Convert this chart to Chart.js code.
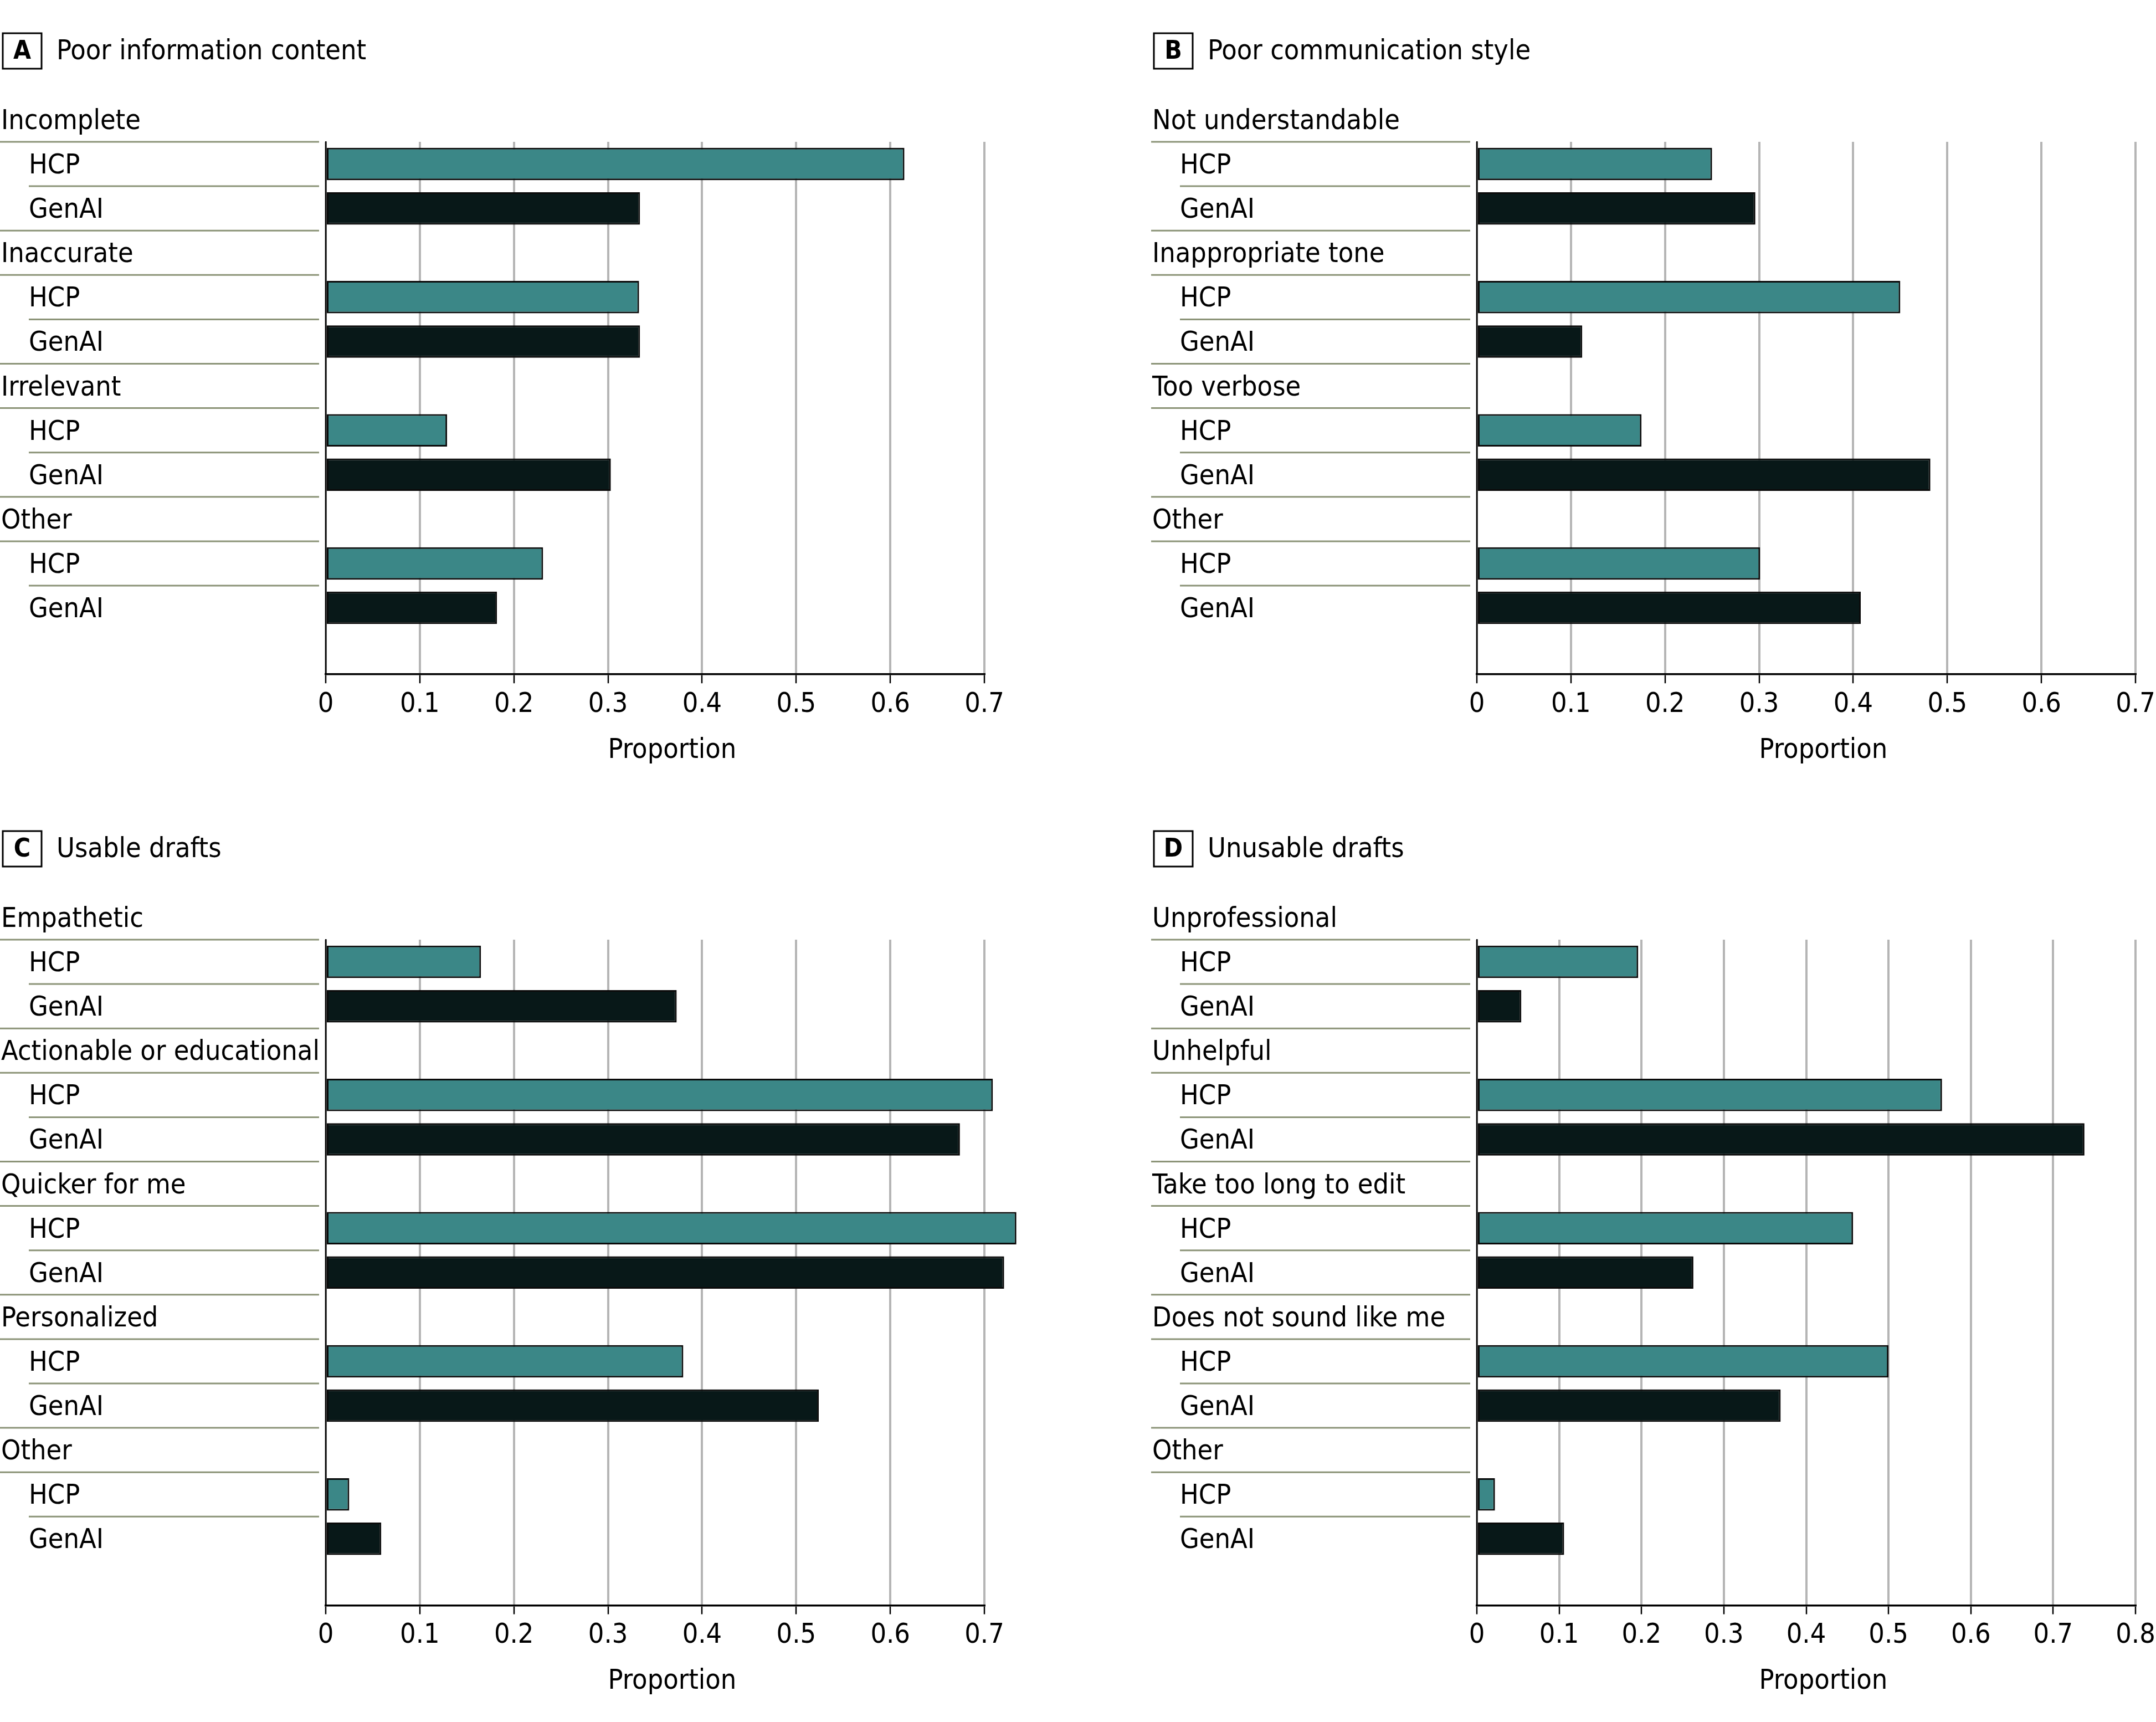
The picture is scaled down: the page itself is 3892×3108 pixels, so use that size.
<!DOCTYPE html>
<html>
<head>
<meta charset="utf-8">
<script src="https://cdn.jsdelivr.net/npm/chart.js@4.4.1/dist/chart.umd.min.js"></script>
<style>
  body { margin: 0; width: 3892px; height: 3108px; overflow: hidden; background: #fff; position: relative; }
  canvas { position: absolute; }
</style>
</head>
<body>
<canvas id="pa" style="left:0;top:0"></canvas>
<canvas id="pb" style="left:2078px;top:0"></canvas>
<canvas id="pc" style="left:0;top:1440px"></canvas>
<canvas id="pd" style="left:2078px;top:1440px"></canvas>
<script>
// values (proportions)
const seriesNames = ['HCP', 'GenAI'];

const aCats = ['Incomplete', 'Inaccurate', 'Irrelevant', 'Other'];
const aHCP = [0.615, 0.333, 0.129, 0.231];
const aGenAI = [0.334, 0.334, 0.303, 0.182];

const bCats = ['Not understandable', 'Inappropriate tone', 'Too verbose', 'Other'];
const bHCP = [0.250, 0.450, 0.175, 0.301];
const bGenAI = [0.296, 0.112, 0.482, 0.408];

const cCats = ['Empathetic', 'Actionable or educational', 'Quicker for me', 'Personalized', 'Other'];
const cHCP = [0.165, 0.709, 0.734, 0.380, 0.025];
const cGenAI = [0.373, 0.674, 0.721, 0.524, 0.059];

const dCats = ['Unprofessional', 'Unhelpful', 'Take too long to edit', 'Does not sound like me', 'Other'];
const dHCP = [0.196, 0.565, 0.457, 0.500, 0.022];
const dGenAI = [0.054, 0.738, 0.263, 0.369, 0.106];

const axisTitle = 'Proportion';

// layout (px)
const ROW = 80.1, TOP = 256, LEFT = 588, PLOT_W = 1189, CW = 2078, AXIS_H = 200;
const FONT = "'DejaVu Sans Condensed','Liberation Sans',sans-serif";
const FS = 50;

function panel(id, letter, title, cats, hcp, gen, xmax, H) {
    let labels = [], kinds = [], dh = [], dg = [];
    cats.forEach((c, i) => {
        if (i > 0) { labels.push(c); kinds.push('head'); dh.push(null); dg.push(null); }
        labels.push(seriesNames[0]); kinds.push('hcp'); dh.push(hcp[i]); dg.push(null);
        labels.push(seriesNames[1]); kinds.push('gen'); dh.push(null); dg.push(gen[i]);
    });
    labels.push(''); kinds.push('blank'); dh.push(null); dg.push(null);

    let cv = document.getElementById(id);
    cv.width = CW; cv.height = H;

    let side = {
        id: 'side',
        afterDraw(chart) {
            let ctx = chart.ctx, ys = chart.scales.y, xs = chart.scales.x;
            let y0 = ys.getPixelForValue(0), rh = ys.getPixelForValue(1) - y0;
            let allL = [cats[0]].concat(labels), allK = ['head'].concat(kinds);
            ctx.save();
            ctx.fillStyle = '#000';
            ctx.textBaseline = 'middle';
            ctx.textAlign = 'left';
            ctx.font = FS + 'px ' + FONT;
            ctx.strokeStyle = '#8c9478';
            ctx.lineWidth = 3;
            allK.forEach((k, i) => {
                if (k == 'blank') return;
                let cy = y0 + (i - 1) * rh;
                ctx.fillText(allL[i], k == 'head' ? 2 : 52, cy + 4);
                if (allK[i + 1] && allK[i + 1] != 'blank') {
                    ctx.beginPath();
                    ctx.moveTo(k == 'hcp' ? 52 : 0, cy + rh / 2);
                    ctx.lineTo(576, cy + rh / 2);
                    ctx.stroke();
                }
            });
            // axis title
            ctx.textAlign = 'center';
            ctx.fillText(axisTitle, xs.left + 0.526 * xs.width, chart.chartArea.bottom + 138);
            // panel letter + title
            ctx.strokeStyle = '#000';
            ctx.lineWidth = 3;
            ctx.strokeRect(5, 60, 70, 64);
            ctx.font = 'bold 46px ' + FONT;
            ctx.fillText(letter, 40, 94);
            ctx.textAlign = 'left';
            ctx.font = FS + 'px ' + FONT;
            ctx.fillText(title, 102, 94);
            ctx.restore();
        }
    };

    new Chart(cv, {
        type: 'bar',
        data: {
            labels: labels,
            datasets: [
                {label: seriesNames[0], data: dh, backgroundColor: '#3b8787'},
                {label: seriesNames[1], data: dg, backgroundColor: '#081818'}
            ]
        },
        options: {
            indexAxis: 'y', responsive: false, animation: false,
            layout: {padding: {top: TOP, left: 0, right: CW - LEFT - PLOT_W,
                bottom: H - TOP - labels.length * ROW - AXIS_H}},
            datasets: {bar: {grouped: false, barPercentage: 0.73, categoryPercentage: 1,
                borderColor: '#0a0a0a', borderWidth: 3, borderSkipped: false, clip: false}},
            plugins: {legend: {display: false}, tooltip: {enabled: false}},
            scales: {
                x: {
                    min: 0, max: xmax,
                    ticks: {stepSize: 0.1, callback: v => String(+v.toFixed(1)),
                        font: {family: FONT, size: FS}, color: '#000', padding: 9},
                    grid: {color: '#b5b5b5', lineWidth: 4, tickLength: 16, tickColor: '#000', tickWidth: 2.5},
                    border: {color: '#000', width: 3.5},
                    afterFit: s => { s.height = AXIS_H; s.paddingLeft = 0; s.paddingRight = 0; }
                },
                y: {
                    ticks: {display: false}, grid: {display: false},
                    border: {color: '#000', width: 2.5},
                    afterFit: s => { s.width = LEFT; }
                }
            }
        },
        plugins: [side]
    });
}

panel('pa', 'A', 'Poor information content', aCats, aHCP, aGenAI, 0.7, 1440);
panel('pb', 'B', 'Poor communication style', bCats, bHCP, bGenAI, 0.7, 1440);
panel('pc', 'C', 'Usable drafts', cCats, cHCP, cGenAI, 0.7, 1668);
panel('pd', 'D', 'Unusable drafts', dCats, dHCP, dGenAI, 0.8, 1668);
</script>
</body>
</html>
